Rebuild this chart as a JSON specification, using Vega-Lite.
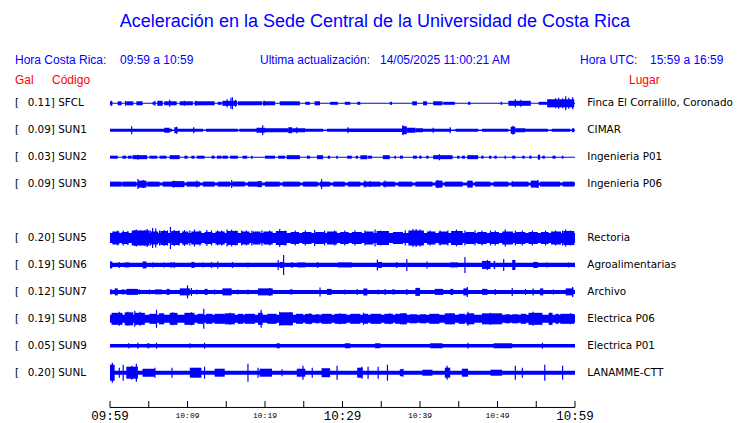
{
"$schema":"https://vega.github.io/schema/vega-lite/v6.json",
"width":465,"height":408,
"autosize":{"type":"none"},
"padding":{"left":110,"top":0,"right":165,"bottom":15},
"background":"white",
"config":{"view":{"stroke":null}},
"datasets":{
"traces":[
{"c":"SFCL","r":0,"g":"0.11","n":0.5,"lugar":"Finca El Corralillo, Coronado"},
{"c":"SUN1","r":1,"g":"0.09","n":0.75,"lugar":"CIMAR"},
{"c":"SUN2","r":2,"g":"0.03","n":0.5,"lugar":"Ingenieria P01"},
{"c":"SUN3","r":3,"g":"0.09","n":1.5,"lugar":"Ingenieria P06"},
{"c":"SUN5","r":5,"g":"0.20","n":5,"lugar":"Rectoria"},
{"c":"SUN6","r":6,"g":"0.19","n":2.1,"lugar":"Agroalimentarias"},
{"c":"SUN7","r":7,"g":"0.12","n":2,"lugar":"Archivo"},
{"c":"SUN8","r":8,"g":"0.19","n":4,"lugar":"Electrica P06"},
{"c":"SUN9","r":9,"g":"0.05","n":1.75,"lugar":"Electrica P01"},
{"c":"SUNL","r":10,"g":"0.20","n":2,"lugar":"LANAMME-CTT"}
],
"blocks":[
{"c":"SFCL","t":0,"t2":0.3,"a":2},{"c":"SFCL","t":1.0,"t2":1.5,"a":2},{"c":"SFCL","t":2.1,"t2":3.0,"a":2},{"c":"SFCL","t":3.4,"t2":4.2,"a":2},{"c":"SFCL","t":5.5,"t2":5.8,"a":1.5},{"c":"SFCL","t":6.1,"t2":6.8,"a":2.5},{"c":"SFCL","t":7.0,"t2":8.6,"a":2},{"c":"SFCL","t":9.0,"t2":10.7,"a":2},{"c":"SFCL","t":10.9,"t2":13.5,"a":2},{"c":"SFCL","t":13.9,"t2":14.4,"a":1.5},{"c":"SFCL","t":14.5,"t2":16.4,"a":2.5},{"c":"SFCL","t":16.5,"t2":19.6,"a":2},{"c":"SFCL","t":19.7,"t2":21.3,"a":2},{"c":"SFCL","t":21.9,"t2":24.5,"a":2},{"c":"SFCL","t":25.2,"t2":25.8,"a":1.5},{"c":"SFCL","t":26.4,"t2":27.1,"a":2},{"c":"SFCL","t":28.4,"t2":29.4,"a":1.5},{"c":"SFCL","t":30.3,"t2":31.0,"a":1.5},{"c":"SFCL","t":31.9,"t2":32.3,"a":1.5},{"c":"SFCL","t":36.1,"t2":36.4,"a":1.5},{"c":"SFCL","t":39.0,"t2":39.6,"a":2},{"c":"SFCL","t":40.4,"t2":40.9,"a":2},{"c":"SFCL","t":41.7,"t2":42.9,"a":2},{"c":"SFCL","t":43.0,"t2":44.5,"a":1.5},{"c":"SFCL","t":46.2,"t2":46.5,"a":1.5},{"c":"SFCL","t":50.4,"t2":50.6,"a":1.5},{"c":"SFCL","t":51.4,"t2":54.3,"a":2.5},{"c":"SFCL","t":55.3,"t2":56.4,"a":1.5},{"c":"SFCL","t":56.4,"t2":59.9,"a":4},
{"c":"SUN1","t":0,"t2":8.0,"a":1.5},{"c":"SUN1","t":7.0,"t2":7.7,"a":2.5},{"c":"SUN1","t":8.3,"t2":8.7,"a":3},{"c":"SUN1","t":8.7,"t2":12.0,"a":1.5},{"c":"SUN1","t":12.4,"t2":16.5,"a":1.5},{"c":"SUN1","t":16.7,"t2":19.6,"a":1.5},{"c":"SUN1","t":18.9,"t2":20.0,"a":2.5},{"c":"SUN1","t":20.0,"t2":23.0,"a":2},{"c":"SUN1","t":23.0,"t2":23.5,"a":3},{"c":"SUN1","t":23.5,"t2":25.2,"a":2},{"c":"SUN1","t":25.2,"t2":27.5,"a":1.5},{"c":"SUN1","t":28.0,"t2":30.6,"a":1.5},{"c":"SUN1","t":30.6,"t2":37.7,"a":1.75},{"c":"SUN1","t":37.7,"t2":38.3,"a":4},{"c":"SUN1","t":38.3,"t2":39.4,"a":2.5},{"c":"SUN1","t":39.4,"t2":40.4,"a":2},{"c":"SUN1","t":40.4,"t2":44.0,"a":1.5},{"c":"SUN1","t":44.6,"t2":47.5,"a":1.5},{"c":"SUN1","t":48.0,"t2":51.4,"a":1.5},{"c":"SUN1","t":51.7,"t2":52.3,"a":3.5},{"c":"SUN1","t":52.3,"t2":53.6,"a":2},{"c":"SUN1","t":53.6,"t2":56.5,"a":1.5},{"c":"SUN1","t":57.0,"t2":59.4,"a":1.5},{"c":"SUN1","t":59.6,"t2":59.9,"a":2},
{"c":"SUN2","t":0,"t2":1.0,"a":1.5},{"c":"SUN2","t":1.6,"t2":2.1,"a":1.5},{"c":"SUN2","t":2.3,"t2":2.8,"a":1.5},{"c":"SUN2","t":2.9,"t2":4.8,"a":2},{"c":"SUN2","t":5.1,"t2":6.1,"a":1.5},{"c":"SUN2","t":6.4,"t2":7.3,"a":1.5},{"c":"SUN2","t":7.7,"t2":9.0,"a":2},{"c":"SUN2","t":9.6,"t2":10.0,"a":1.5},{"c":"SUN2","t":10.5,"t2":10.9,"a":1.5},{"c":"SUN2","t":11.2,"t2":12.2,"a":1.5},{"c":"SUN2","t":13.1,"t2":13.5,"a":1.5},{"c":"SUN2","t":13.8,"t2":14.4,"a":1.5},{"c":"SUN2","t":14.5,"t2":15.2,"a":1.5},{"c":"SUN2","t":15.5,"t2":16.5,"a":1.5},{"c":"SUN2","t":17.1,"t2":17.7,"a":1.5},{"c":"SUN2","t":18.2,"t2":18.4,"a":1.5},{"c":"SUN2","t":20.0,"t2":21.3,"a":1.5},{"c":"SUN2","t":21.7,"t2":22.6,"a":1.5},{"c":"SUN2","t":22.8,"t2":24.5,"a":2},{"c":"SUN2","t":25.4,"t2":25.8,"a":1.5},{"c":"SUN2","t":26.7,"t2":27.5,"a":2},{"c":"SUN2","t":28.1,"t2":28.4,"a":1.5},{"c":"SUN2","t":29.2,"t2":29.4,"a":1.5},{"c":"SUN2","t":30.6,"t2":31.2,"a":1.5},{"c":"SUN2","t":31.7,"t2":32.0,"a":1.5},{"c":"SUN2","t":32.3,"t2":33.2,"a":2},{"c":"SUN2","t":33.3,"t2":33.8,"a":1.5},{"c":"SUN2","t":35.2,"t2":36.1,"a":2},{"c":"SUN2","t":36.7,"t2":36.9,"a":1.5},{"c":"SUN2","t":37.4,"t2":37.8,"a":1.5},{"c":"SUN2","t":39.1,"t2":39.6,"a":1.5},{"c":"SUN2","t":39.9,"t2":40.2,"a":1.5},{"c":"SUN2","t":40.8,"t2":41.1,"a":1.5},{"c":"SUN2","t":41.7,"t2":44.2,"a":2},{"c":"SUN2","t":44.8,"t2":45.1,"a":1.5},{"c":"SUN2","t":45.4,"t2":45.8,"a":1.5},{"c":"SUN2","t":46.1,"t2":47.5,"a":2},{"c":"SUN2","t":47.9,"t2":48.2,"a":1.5},{"c":"SUN2","t":48.9,"t2":49.2,"a":1.5},{"c":"SUN2","t":49.6,"t2":49.9,"a":1.5},{"c":"SUN2","t":50.9,"t2":51.1,"a":1.5},{"c":"SUN2","t":51.9,"t2":52.3,"a":1.5},{"c":"SUN2","t":53.2,"t2":53.5,"a":1.5},{"c":"SUN2","t":54.1,"t2":54.4,"a":1.5},{"c":"SUN2","t":55.2,"t2":55.5,"a":2.5},{"c":"SUN2","t":55.8,"t2":56.1,"a":1.5},{"c":"SUN2","t":57.1,"t2":57.5,"a":1.5},{"c":"SUN2","t":58.3,"t2":58.5,"a":1.5},
{"c":"SUN3","t":0,"t2":1.5,"a":2.5},{"c":"SUN3","t":1.6,"t2":3.4,"a":2.5},{"c":"SUN3","t":3.6,"t2":4.7,"a":3.5},{"c":"SUN3","t":4.8,"t2":6.4,"a":2.5},{"c":"SUN3","t":6.8,"t2":8.0,"a":2.5},{"c":"SUN3","t":8.0,"t2":9.6,"a":3},{"c":"SUN3","t":9.9,"t2":11.6,"a":2.5},{"c":"SUN3","t":12.0,"t2":13.5,"a":2.5},{"c":"SUN3","t":13.9,"t2":15.5,"a":2.5},{"c":"SUN3","t":15.8,"t2":17.4,"a":2.5},{"c":"SUN3","t":17.8,"t2":19.0,"a":2.5},{"c":"SUN3","t":19.0,"t2":19.6,"a":3},{"c":"SUN3","t":20.0,"t2":21.9,"a":2.5},{"c":"SUN3","t":22.3,"t2":24.5,"a":2.5},{"c":"SUN3","t":24.9,"t2":26.8,"a":2.5},{"c":"SUN3","t":27.1,"t2":28.4,"a":2.5},{"c":"SUN3","t":28.8,"t2":30.3,"a":2.5},{"c":"SUN3","t":30.7,"t2":32.3,"a":2.5},{"c":"SUN3","t":32.7,"t2":34.9,"a":2.5},{"c":"SUN3","t":35.2,"t2":36.8,"a":2.5},{"c":"SUN3","t":37.2,"t2":39.0,"a":2.5},{"c":"SUN3","t":39.4,"t2":41.6,"a":2.5},{"c":"SUN3","t":42.0,"t2":42.9,"a":3.5},{"c":"SUN3","t":43.2,"t2":45.5,"a":2.5},{"c":"SUN3","t":46.1,"t2":46.8,"a":3.5},{"c":"SUN3","t":47.1,"t2":49.1,"a":2.5},{"c":"SUN3","t":49.5,"t2":51.4,"a":2.5},{"c":"SUN3","t":51.9,"t2":54.0,"a":2.5},{"c":"SUN3","t":54.3,"t2":55.3,"a":3.5},{"c":"SUN3","t":55.5,"t2":58.1,"a":2.5},{"c":"SUN3","t":58.4,"t2":59.9,"a":2.5},
{"c":"SUN5","t":0.3,"t2":1.2,"a":6.5},{"c":"SUN5","t":1.5,"t2":2.4,"a":6},{"c":"SUN5","t":2.8,"t2":5.1,"a":7.5},{"c":"SUN5","t":5.3,"t2":6.2,"a":6.5},{"c":"SUN5","t":6.5,"t2":7.5,"a":7},{"c":"SUN5","t":7.9,"t2":9.0,"a":7},{"c":"SUN5","t":9.3,"t2":10.1,"a":6.5},{"c":"SUN5","t":10.5,"t2":11.8,"a":6.5},{"c":"SUN5","t":12.2,"t2":13.2,"a":6},{"c":"SUN5","t":13.6,"t2":14.8,"a":6.5},{"c":"SUN5","t":15.1,"t2":16.5,"a":7},{"c":"SUN5","t":16.9,"t2":18.0,"a":6.5},{"c":"SUN5","t":18.4,"t2":19.4,"a":6.5},{"c":"SUN5","t":19.8,"t2":21.0,"a":6.5},{"c":"SUN5","t":21.4,"t2":22.8,"a":7},{"c":"SUN5","t":23.3,"t2":24.4,"a":6},{"c":"SUN5","t":24.8,"t2":26.0,"a":6},{"c":"SUN5","t":26.5,"t2":27.6,"a":6},{"c":"SUN5","t":28.0,"t2":29.3,"a":6.5},{"c":"SUN5","t":29.7,"t2":30.8,"a":6},{"c":"SUN5","t":31.2,"t2":32.5,"a":6},{"c":"SUN5","t":32.9,"t2":34.0,"a":6.5},{"c":"SUN5","t":34.4,"t2":36.0,"a":7},{"c":"SUN5","t":36.5,"t2":37.8,"a":6},{"c":"SUN5","t":38.5,"t2":40.5,"a":7.5},{"c":"SUN5","t":40.9,"t2":42.0,"a":6.5},{"c":"SUN5","t":42.4,"t2":43.6,"a":6.5},{"c":"SUN5","t":44.0,"t2":45.5,"a":7},{"c":"SUN5","t":45.9,"t2":47.0,"a":6},{"c":"SUN5","t":47.4,"t2":48.6,"a":6},{"c":"SUN5","t":49.0,"t2":50.2,"a":6},{"c":"SUN5","t":50.6,"t2":52.0,"a":6.5},{"c":"SUN5","t":52.4,"t2":53.6,"a":6},{"c":"SUN5","t":54.0,"t2":55.2,"a":6},{"c":"SUN5","t":55.6,"t2":56.6,"a":6},{"c":"SUN5","t":56.9,"t2":58.2,"a":6.5},{"c":"SUN5","t":58.5,"t2":59.9,"a":7},
{"c":"SUN6","t":0,"t2":0.3,"a":3.5},{"c":"SUN6","t":1.9,"t2":2.5,"a":2.5},{"c":"SUN6","t":4.2,"t2":4.7,"a":3.5},{"c":"SUN6","t":7.7,"t2":8.1,"a":2.5},{"c":"SUN6","t":10.5,"t2":10.9,"a":3},{"c":"SUN6","t":21.9,"t2":22.3,"a":3},{"c":"SUN6","t":24.2,"t2":25.2,"a":2.5},{"c":"SUN6","t":29.4,"t2":31.2,"a":2.5},{"c":"SUN6","t":34.6,"t2":35.1,"a":3},{"c":"SUN6","t":43.9,"t2":44.9,"a":2.5},{"c":"SUN6","t":48.0,"t2":49.1,"a":4},{"c":"SUN6","t":49.5,"t2":49.7,"a":4},{"c":"SUN6","t":51.9,"t2":52.3,"a":5},{"c":"SUN6","t":54.6,"t2":55.2,"a":3},
{"c":"SUN7","t":0,"t2":0.3,"a":2.5},{"c":"SUN7","t":0.6,"t2":1.0,"a":3.5},{"c":"SUN7","t":1.5,"t2":1.9,"a":2.5},{"c":"SUN7","t":2.1,"t2":3.6,"a":3},{"c":"SUN7","t":5.8,"t2":6.7,"a":2.5},{"c":"SUN7","t":7.3,"t2":7.7,"a":3},{"c":"SUN7","t":9.0,"t2":10.3,"a":3.5},{"c":"SUN7","t":12.2,"t2":12.6,"a":3},{"c":"SUN7","t":14.5,"t2":15.7,"a":3.5},{"c":"SUN7","t":19.1,"t2":21.0,"a":3.5},{"c":"SUN7","t":23.2,"t2":23.6,"a":2.5},{"c":"SUN7","t":28.0,"t2":28.6,"a":3},{"c":"SUN7","t":32.7,"t2":33.2,"a":3.5},{"c":"SUN7","t":36.4,"t2":36.8,"a":2.5},{"c":"SUN7","t":39.4,"t2":40.0,"a":4},{"c":"SUN7","t":41.9,"t2":43.0,"a":3},{"c":"SUN7","t":43.9,"t2":44.3,"a":3},{"c":"SUN7","t":45.6,"t2":46.2,"a":3.5},{"c":"SUN7","t":48.0,"t2":48.7,"a":3},{"c":"SUN7","t":55.5,"t2":55.9,"a":3.5},{"c":"SUN7","t":58.8,"t2":59.8,"a":3.5},
{"c":"SUN8","t":0.2,"t2":1.6,"a":6},{"c":"SUN8","t":1.9,"t2":3.0,"a":6.5},{"c":"SUN8","t":3.2,"t2":4.5,"a":6},{"c":"SUN8","t":5.1,"t2":6.0,"a":5},{"c":"SUN8","t":6.3,"t2":7.0,"a":5.5},{"c":"SUN8","t":7.7,"t2":8.7,"a":6},{"c":"SUN8","t":9.6,"t2":10.9,"a":6},{"c":"SUN8","t":11.3,"t2":12.0,"a":5},{"c":"SUN8","t":12.4,"t2":13.2,"a":5},{"c":"SUN8","t":13.5,"t2":14.8,"a":5},{"c":"SUN8","t":14.8,"t2":16.1,"a":5.5},{"c":"SUN8","t":16.5,"t2":17.2,"a":5},{"c":"SUN8","t":17.4,"t2":18.7,"a":5},{"c":"SUN8","t":19.1,"t2":19.7,"a":6},{"c":"SUN8","t":20.3,"t2":21.5,"a":5},{"c":"SUN8","t":21.9,"t2":23.6,"a":6.5},{"c":"SUN8","t":24.0,"t2":24.9,"a":5},{"c":"SUN8","t":25.2,"t2":26.1,"a":5},{"c":"SUN8","t":26.5,"t2":27.0,"a":4.5},{"c":"SUN8","t":27.3,"t2":28.6,"a":5},{"c":"SUN8","t":29.0,"t2":30.5,"a":5},{"c":"SUN8","t":31.0,"t2":32.3,"a":5},{"c":"SUN8","t":32.7,"t2":33.3,"a":5},{"c":"SUN8","t":33.6,"t2":35.0,"a":5},{"c":"SUN8","t":35.4,"t2":36.5,"a":5},{"c":"SUN8","t":36.8,"t2":37.4,"a":5},{"c":"SUN8","t":37.4,"t2":38.3,"a":5.5},{"c":"SUN8","t":38.7,"t2":39.6,"a":4.5},{"c":"SUN8","t":40.0,"t2":40.7,"a":4.5},{"c":"SUN8","t":41.2,"t2":42.5,"a":5},{"c":"SUN8","t":43.2,"t2":44.5,"a":5.5},{"c":"SUN8","t":45.0,"t2":45.8,"a":5},{"c":"SUN8","t":46.0,"t2":47.0,"a":5.5},{"c":"SUN8","t":48.0,"t2":50.6,"a":5.5},{"c":"SUN8","t":51.0,"t2":51.6,"a":4.5},{"c":"SUN8","t":51.9,"t2":52.7,"a":4.5},{"c":"SUN8","t":53.0,"t2":53.7,"a":5},{"c":"SUN8","t":54.0,"t2":55.8,"a":6},{"c":"SUN8","t":56.6,"t2":57.1,"a":6},{"c":"SUN8","t":57.5,"t2":57.9,"a":5},{"c":"SUN8","t":58.1,"t2":59.9,"a":5},
{"c":"SUN9","t":2.3,"t2":2.5,"a":2.5},{"c":"SUN9","t":4.8,"t2":5.1,"a":2.5},{"c":"SUN9","t":21.5,"t2":21.9,"a":2.5},{"c":"SUN9","t":30.3,"t2":31.0,"a":2.5},{"c":"SUN9","t":34.2,"t2":34.9,"a":2.5},{"c":"SUN9","t":41.3,"t2":42.9,"a":2.5},{"c":"SUN9","t":49.5,"t2":51.9,"a":2.5},
{"c":"SUNL","t":0,"t2":0.6,"a":8},{"c":"SUNL","t":2.1,"t2":3.6,"a":6},{"c":"SUNL","t":4.2,"t2":5.8,"a":4},{"c":"SUNL","t":10.3,"t2":11.8,"a":5},{"c":"SUNL","t":13.5,"t2":14.8,"a":4},{"c":"SUNL","t":19.3,"t2":20.9,"a":4},{"c":"SUNL","t":24.1,"t2":25.2,"a":4},{"c":"SUNL","t":27.3,"t2":28.4,"a":4.5},{"c":"SUNL","t":31.9,"t2":32.6,"a":5},{"c":"SUNL","t":37.4,"t2":37.8,"a":3.5},{"c":"SUNL","t":40.3,"t2":41.6,"a":3},{"c":"SUNL","t":43.2,"t2":43.9,"a":5},{"c":"SUNL","t":45.4,"t2":46.2,"a":4},{"c":"SUNL","t":49.1,"t2":50.6,"a":3}
],
"spikes":[
{"c":"SFCL","t":0.2,"a":2.5},{"c":"SFCL","t":2.0,"a":2.5},{"c":"SFCL","t":5.8,"a":2.5},{"c":"SFCL","t":7.7,"a":3.5},{"c":"SFCL","t":9.6,"a":2.5},{"c":"SFCL","t":11.1,"a":2.5},{"c":"SFCL","t":15.1,"a":4},{"c":"SFCL","t":15.6,"a":5.5},{"c":"SFCL","t":15.8,"a":6},{"c":"SFCL","t":16.2,"a":3.5},{"c":"SFCL","t":19.9,"a":2.5},{"c":"SFCL","t":52.3,"a":4},{"c":"SFCL","t":53.0,"a":3.5},{"c":"SFCL","t":56.8,"a":4},{"c":"SFCL","t":57.5,"a":5},{"c":"SFCL","t":57.9,"a":5.5},{"c":"SFCL","t":58.4,"a":5},{"c":"SFCL","t":58.8,"a":7},{"c":"SFCL","t":59.2,"a":5.5},{"c":"SFCL","t":59.7,"a":6},
{"c":"SUN1","t":2.8,"a":4},{"c":"SUN1","t":8.6,"a":3.5},{"c":"SUN1","t":10.8,"a":3},{"c":"SUN1","t":19.7,"a":5},{"c":"SUN1","t":24.1,"a":3},{"c":"SUN1","t":30.7,"a":3},{"c":"SUN1","t":37.8,"a":5},{"c":"SUN1","t":41.7,"a":2.5},{"c":"SUN1","t":43.9,"a":3},{"c":"SUN1","t":52.0,"a":4.5},
{"c":"SUN2","t":3.6,"a":2.5},{"c":"SUN2","t":42.5,"a":3},
{"c":"SUN3","t":3.6,"a":5},{"c":"SUN3","t":4.3,"a":4},{"c":"SUN3","t":8.2,"a":3.5},{"c":"SUN3","t":11.2,"a":3.5},{"c":"SUN3","t":15.7,"a":4},{"c":"SUN3","t":27.3,"a":5},{"c":"SUN3","t":32.9,"a":3.5},{"c":"SUN3","t":33.6,"a":3},{"c":"SUN3","t":35.5,"a":3.5},{"c":"SUN3","t":42.3,"a":4},{"c":"SUN3","t":51.9,"a":3},{"c":"SUN3","t":55.2,"a":4},
{"c":"SUN5","t":1.0,"a":7.5},{"c":"SUN5","t":1.7,"a":7.5},{"c":"SUN5","t":2.3,"a":7},{"c":"SUN5","t":3.2,"a":8},{"c":"SUN5","t":3.4,"a":8.5},{"c":"SUN5","t":3.9,"a":7.5},{"c":"SUN5","t":4.5,"a":8},{"c":"SUN5","t":4.8,"a":9},{"c":"SUN5","t":5.2,"a":7.5},{"c":"SUN5","t":5.5,"a":10},{"c":"SUN5","t":5.9,"a":9.5},{"c":"SUN5","t":6.4,"a":7.5},{"c":"SUN5","t":7.0,"a":8},{"c":"SUN5","t":7.4,"a":7.5},{"c":"SUN5","t":7.8,"a":11},{"c":"SUN5","t":8.3,"a":8},{"c":"SUN5","t":8.9,"a":7.5},{"c":"SUN5","t":9.6,"a":8},{"c":"SUN5","t":10.3,"a":7.5},{"c":"SUN5","t":10.9,"a":8.5},{"c":"SUN5","t":11.6,"a":7.5},{"c":"SUN5","t":12.5,"a":8},{"c":"SUN5","t":13.1,"a":7.5},{"c":"SUN5","t":13.9,"a":7.5},{"c":"SUN5","t":14.4,"a":7.5},{"c":"SUN5","t":15.1,"a":8.5},{"c":"SUN5","t":15.7,"a":8.5},{"c":"SUN5","t":16.2,"a":7.5},{"c":"SUN5","t":17.0,"a":7.5},{"c":"SUN5","t":17.6,"a":7.5},{"c":"SUN5","t":18.3,"a":7.5},{"c":"SUN5","t":19.6,"a":7.5},{"c":"SUN5","t":20.6,"a":7.5},{"c":"SUN5","t":21.9,"a":9},{"c":"SUN5","t":22.6,"a":7.5},{"c":"SUN5","t":23.9,"a":7.5},{"c":"SUN5","t":25.2,"a":7.5},{"c":"SUN5","t":26.4,"a":8},{"c":"SUN5","t":27.7,"a":7.5},{"c":"SUN5","t":29.0,"a":7.5},{"c":"SUN5","t":30.3,"a":7.5},{"c":"SUN5","t":31.6,"a":7.5},{"c":"SUN5","t":32.9,"a":7.5},{"c":"SUN5","t":34.2,"a":8.5},{"c":"SUN5","t":34.9,"a":7.5},{"c":"SUN5","t":35.7,"a":7},{"c":"SUN5","t":38.1,"a":7.5},{"c":"SUN5","t":39.1,"a":9},{"c":"SUN5","t":39.5,"a":9},{"c":"SUN5","t":40.0,"a":8.5},{"c":"SUN5","t":41.3,"a":7.5},{"c":"SUN5","t":42.6,"a":7.5},{"c":"SUN5","t":43.6,"a":7.5},{"c":"SUN5","t":44.7,"a":8.5},{"c":"SUN5","t":45.8,"a":7.5},{"c":"SUN5","t":47.1,"a":7.5},{"c":"SUN5","t":48.0,"a":7.5},{"c":"SUN5","t":49.1,"a":7.5},{"c":"SUN5","t":49.7,"a":7.5},{"c":"SUN5","t":51.0,"a":8.5},{"c":"SUN5","t":52.3,"a":7.5},{"c":"SUN5","t":53.2,"a":7.5},{"c":"SUN5","t":54.5,"a":7.5},{"c":"SUN5","t":56.2,"a":7.5},{"c":"SUN5","t":57.5,"a":7.5},{"c":"SUN5","t":58.4,"a":7.5},{"c":"SUN5","t":58.8,"a":8.5},{"c":"SUN5","t":59.4,"a":7.5},
{"c":"SUN6","t":1.2,"a":3},{"c":"SUN6","t":5.5,"a":2.5},{"c":"SUN6","t":7.0,"a":2.5},{"c":"SUN6","t":8.3,"a":3},{"c":"SUN6","t":12.0,"a":2.5},{"c":"SUN6","t":13.1,"a":3},{"c":"SUN6","t":13.9,"a":3.5},{"c":"SUN6","t":15.8,"a":3},{"c":"SUN6","t":17.8,"a":2.5},{"c":"SUN6","t":21.7,"a":5},{"c":"SUN6","t":22.4,"a":10},{"c":"SUN6","t":23.5,"a":3},{"c":"SUN6","t":26.8,"a":3},{"c":"SUN6","t":34.5,"a":5.5},{"c":"SUN6","t":37.0,"a":3},{"c":"SUN6","t":38.3,"a":6},{"c":"SUN6","t":40.9,"a":3.5},{"c":"SUN6","t":45.8,"a":8},{"c":"SUN6","t":48.7,"a":5},{"c":"SUN6","t":50.8,"a":6},{"c":"SUN6","t":52.2,"a":5},{"c":"SUN6","t":56.4,"a":2.5},{"c":"SUN6","t":59.2,"a":2.5},
{"c":"SUN7","t":3.8,"a":2.5},{"c":"SUN7","t":5.1,"a":2.5},{"c":"SUN7","t":10.0,"a":6.5},{"c":"SUN7","t":10.5,"a":4},{"c":"SUN7","t":11.2,"a":2.5},{"c":"SUN7","t":13.5,"a":2.5},{"c":"SUN7","t":16.5,"a":2.5},{"c":"SUN7","t":17.8,"a":2.5},{"c":"SUN7","t":20.6,"a":4},{"c":"SUN7","t":27.1,"a":4.5},{"c":"SUN7","t":30.3,"a":2.5},{"c":"SUN7","t":31.9,"a":3},{"c":"SUN7","t":34.6,"a":2.5},{"c":"SUN7","t":35.5,"a":3},{"c":"SUN7","t":38.3,"a":3},{"c":"SUN7","t":46.1,"a":5},{"c":"SUN7","t":49.7,"a":3},{"c":"SUN7","t":51.9,"a":4},{"c":"SUN7","t":53.6,"a":3},{"c":"SUN7","t":54.6,"a":3.5},{"c":"SUN7","t":57.2,"a":2.5},{"c":"SUN7","t":59.7,"a":5},
{"c":"SUN8","t":1.2,"a":7},{"c":"SUN8","t":2.3,"a":7},{"c":"SUN8","t":3.2,"a":8},{"c":"SUN8","t":3.9,"a":7},{"c":"SUN8","t":6.0,"a":9},{"c":"SUN8","t":8.1,"a":6.5},{"c":"SUN8","t":10.5,"a":6.5},{"c":"SUN8","t":12.1,"a":10},{"c":"SUN8","t":15.5,"a":6},{"c":"SUN8","t":19.5,"a":9},{"c":"SUN8","t":21.9,"a":7},{"c":"SUN8","t":23.2,"a":6.5},{"c":"SUN8","t":25.8,"a":5.5},{"c":"SUN8","t":29.7,"a":5.5},{"c":"SUN8","t":32.7,"a":6},{"c":"SUN8","t":36.1,"a":5.5},{"c":"SUN8","t":37.9,"a":5.5},{"c":"SUN8","t":40.7,"a":4.5},{"c":"SUN8","t":43.9,"a":5.5},{"c":"SUN8","t":46.2,"a":7},{"c":"SUN8","t":49.1,"a":6},{"c":"SUN8","t":54.6,"a":7},{"c":"SUN8","t":56.8,"a":6},{"c":"SUN8","t":59.4,"a":5.5},
{"c":"SUN9","t":3.6,"a":3},{"c":"SUN9","t":6.0,"a":3},{"c":"SUN9","t":10.3,"a":2.5},{"c":"SUN9","t":12.2,"a":3},{"c":"SUN9","t":46.2,"a":3},{"c":"SUN9","t":55.8,"a":3},
{"c":"SUNL","t":0.3,"a":10},{"c":"SUNL","t":1.2,"a":5},{"c":"SUNL","t":1.7,"a":8},{"c":"SUNL","t":2.8,"a":7},{"c":"SUNL","t":3.4,"a":9},{"c":"SUNL","t":5.8,"a":5},{"c":"SUNL","t":8.0,"a":5},{"c":"SUNL","t":12.2,"a":6},{"c":"SUNL","t":17.8,"a":9},{"c":"SUNL","t":19.1,"a":5},{"c":"SUNL","t":22.2,"a":3.5},{"c":"SUNL","t":24.9,"a":7},{"c":"SUNL","t":26.1,"a":5},{"c":"SUNL","t":29.3,"a":7},{"c":"SUNL","t":32.5,"a":6},{"c":"SUNL","t":33.3,"a":6},{"c":"SUNL","t":34.6,"a":6},{"c":"SUNL","t":35.8,"a":8},{"c":"SUNL","t":37.8,"a":4},{"c":"SUNL","t":43.5,"a":7},{"c":"SUNL","t":52.3,"a":7},{"c":"SUNL","t":53.2,"a":5},{"c":"SUNL","t":56.1,"a":8},{"c":"SUNL","t":58.4,"a":7}
],
"ticks":[{"m":0,"lab":"09:59"},{"m":5,"lab":""},{"m":10,"lab":"10:09"},{"m":15,"lab":""},{"m":20,"lab":"10:19"},{"m":25,"lab":""},{"m":30,"lab":"10:29"},{"m":35,"lab":""},{"m":40,"lab":"10:39"},{"m":45,"lab":""},{"m":50,"lab":"10:49"},{"m":55,"lab":""},{"m":60,"lab":"10:59"}]
},
"layer":[
{"data":{"name":"traces"},
 "transform":[{"calculate":"datum.r - datum.n/26.94","as":"lo"},{"calculate":"datum.r + datum.n/26.94","as":"hi"}],
 "mark":{"type":"rect","color":"#0000ff"},
 "encoding":{
  "x":{"datum":0,"type":"quantitative","scale":{"domain":[0,60],"nice":false,"zero":false},"axis":null},
  "x2":{"datum":60},
  "y":{"field":"lo","type":"quantitative","scale":{"domain":[-3.8344,11.3103],"nice":false,"zero":false,"reverse":true},"axis":null},
  "y2":{"field":"hi"}}},
{"data":{"name":"blocks"},
 "transform":[{"lookup":"c","from":{"data":{"name":"traces"},"key":"c","fields":["r"]}},{"calculate":"datum.r - datum.a/26.94","as":"lo"},{"calculate":"datum.r + datum.a/26.94","as":"hi"}],
 "mark":{"type":"rect","color":"#0000ff"},
 "encoding":{
  "x":{"field":"t","type":"quantitative","scale":{"domain":[0,60],"nice":false,"zero":false},"axis":null},
  "x2":{"field":"t2"},
  "y":{"field":"lo","type":"quantitative","scale":{"domain":[-3.8344,11.3103],"nice":false,"zero":false,"reverse":true},"axis":null},
  "y2":{"field":"hi"}}},
{"data":{"name":"spikes"},
 "transform":[{"lookup":"c","from":{"data":{"name":"traces"},"key":"c","fields":["r"]}},{"calculate":"datum.r - datum.a/26.94","as":"lo"},{"calculate":"datum.r + datum.a/26.94","as":"hi"}],
 "mark":{"type":"rule","color":"#0000ff","strokeWidth":1.2},
 "encoding":{
  "x":{"field":"t","type":"quantitative","scale":{"domain":[0,60],"nice":false,"zero":false},"axis":null},
  "y":{"field":"lo","type":"quantitative","scale":{"domain":[-3.8344,11.3103],"nice":false,"zero":false,"reverse":true},"axis":null},
  "y2":{"field":"hi"}}},
{"data":{"name":"traces"},
 "mark":{"type":"text","text":"[","align":"left","baseline":"middle","font":"DejaVu Sans","fontSize":10.4,"color":"#000000"},
 "encoding":{"x":{"datum":-12.26,"type":"quantitative"},"y":{"field":"r","type":"quantitative"}}},
{"data":{"name":"traces"},
 "transform":[{"calculate":"datum.g + '] ' + datum.c","as":"lbl"}],
 "mark":{"type":"text","align":"left","baseline":"middle","font":"DejaVu Sans","fontSize":10.4,"color":"#000000"},
 "encoding":{"x":{"datum":-10.62,"type":"quantitative"},"y":{"field":"r","type":"quantitative"},"text":{"field":"lbl"}}},
{"data":{"name":"traces"},
 "mark":{"type":"text","align":"left","baseline":"middle","font":"DejaVu Sans","fontSize":10.4,"color":"#000000"},
 "encoding":{"x":{"datum":61.59,"type":"quantitative"},"y":{"field":"r","type":"quantitative"},"text":{"field":"lugar"}}},
{"data":{"values":[{}]},
 "mark":{"type":"text","text":"Aceleración en la Sede Central de la Universidad de Costa Rica","align":"center","baseline":"middle","font":"Liberation Sans","fontSize":18,"color":"#0000ff"},
 "encoding":{"x":{"datum":34.19,"type":"quantitative"},"y":{"datum":-3.018,"type":"quantitative"}}},
{"data":{"values":[{}]},
 "mark":{"type":"text","text":"Hora Costa Rica:","align":"left","baseline":"middle","font":"Liberation Sans","fontSize":12,"color":"#0000ff"},
 "encoding":{"x":{"datum":-12.26,"type":"quantitative"},"y":{"datum":-1.607,"type":"quantitative"}}},
{"data":{"values":[{}]},
 "mark":{"type":"text","text":"09:59 a 10:59","align":"left","baseline":"middle","font":"Liberation Sans","fontSize":12,"color":"#0000ff"},
 "encoding":{"x":{"datum":1.29,"type":"quantitative"},"y":{"datum":-1.607,"type":"quantitative"}}},
{"data":{"values":[{}]},
 "mark":{"type":"text","text":"Ultima actualización:","align":"left","baseline":"middle","font":"Liberation Sans","fontSize":12,"color":"#0000ff"},
 "encoding":{"x":{"datum":19.35,"type":"quantitative"},"y":{"datum":-1.607,"type":"quantitative"}}},
{"data":{"values":[{}]},
 "mark":{"type":"text","text":"14/05/2025 11:00:21 AM","align":"left","baseline":"middle","font":"Liberation Sans","fontSize":12,"color":"#0000ff"},
 "encoding":{"x":{"datum":34.84,"type":"quantitative"},"y":{"datum":-1.607,"type":"quantitative"}}},
{"data":{"values":[{}]},
 "mark":{"type":"text","text":"Hora UTC:","align":"left","baseline":"middle","font":"Liberation Sans","fontSize":12,"color":"#0000ff"},
 "encoding":{"x":{"datum":60.65,"type":"quantitative"},"y":{"datum":-1.607,"type":"quantitative"}}},
{"data":{"values":[{}]},
 "mark":{"type":"text","text":"15:59 a 16:59","align":"left","baseline":"middle","font":"Liberation Sans","fontSize":12,"color":"#0000ff"},
 "encoding":{"x":{"datum":69.68,"type":"quantitative"},"y":{"datum":-1.607,"type":"quantitative"}}},
{"data":{"values":[{}]},
 "mark":{"type":"text","text":"Gal","align":"left","baseline":"middle","font":"Liberation Sans","fontSize":12,"color":"#ff0000"},
 "encoding":{"x":{"datum":-12.26,"type":"quantitative"},"y":{"datum":-0.865,"type":"quantitative"}}},
{"data":{"values":[{}]},
 "mark":{"type":"text","text":"Código","align":"left","baseline":"middle","font":"Liberation Sans","fontSize":12,"color":"#ff0000"},
 "encoding":{"x":{"datum":-7.48,"type":"quantitative"},"y":{"datum":-0.865,"type":"quantitative"}}},
{"data":{"values":[{}]},
 "mark":{"type":"text","text":"Lugar","align":"left","baseline":"middle","font":"Liberation Sans","fontSize":12,"color":"#ff0000"},
 "encoding":{"x":{"datum":66.97,"type":"quantitative"},"y":{"datum":-0.865,"type":"quantitative"}}},
{"data":{"values":[{}]},
 "mark":{"type":"rule","color":"#000000","strokeWidth":1},
 "encoding":{"x":{"datum":0,"type":"quantitative"},"x2":{"datum":60},"y":{"datum":11.29,"type":"quantitative"}}},
{"data":{"name":"ticks"},
 "mark":{"type":"rule","color":"#000000","strokeWidth":1},
 "encoding":{"x":{"field":"m","type":"quantitative"},"y":{"datum":11.05,"type":"quantitative"},"y2":{"datum":11.29}}},
{"data":{"name":"ticks"},
 "transform":[{"filter":"datum.m % 30 == 0"}],
 "mark":{"type":"text","align":"center","baseline":"alphabetic","font":"Liberation Mono","fontSize":12.5,"color":"#000000"},
 "encoding":{"x":{"field":"m","type":"quantitative"},"y":{"datum":11.756,"type":"quantitative"},"text":{"field":"lab"}}},
{"data":{"name":"ticks"},
 "transform":[{"filter":"datum.m % 30 != 0 && datum.m % 10 == 0"}],
 "mark":{"type":"text","align":"center","baseline":"alphabetic","font":"Liberation Mono","fontSize":8,"color":"#000000"},
 "encoding":{"x":{"field":"m","type":"quantitative"},"y":{"datum":11.663,"type":"quantitative"},"text":{"field":"lab"}}}
]
}
